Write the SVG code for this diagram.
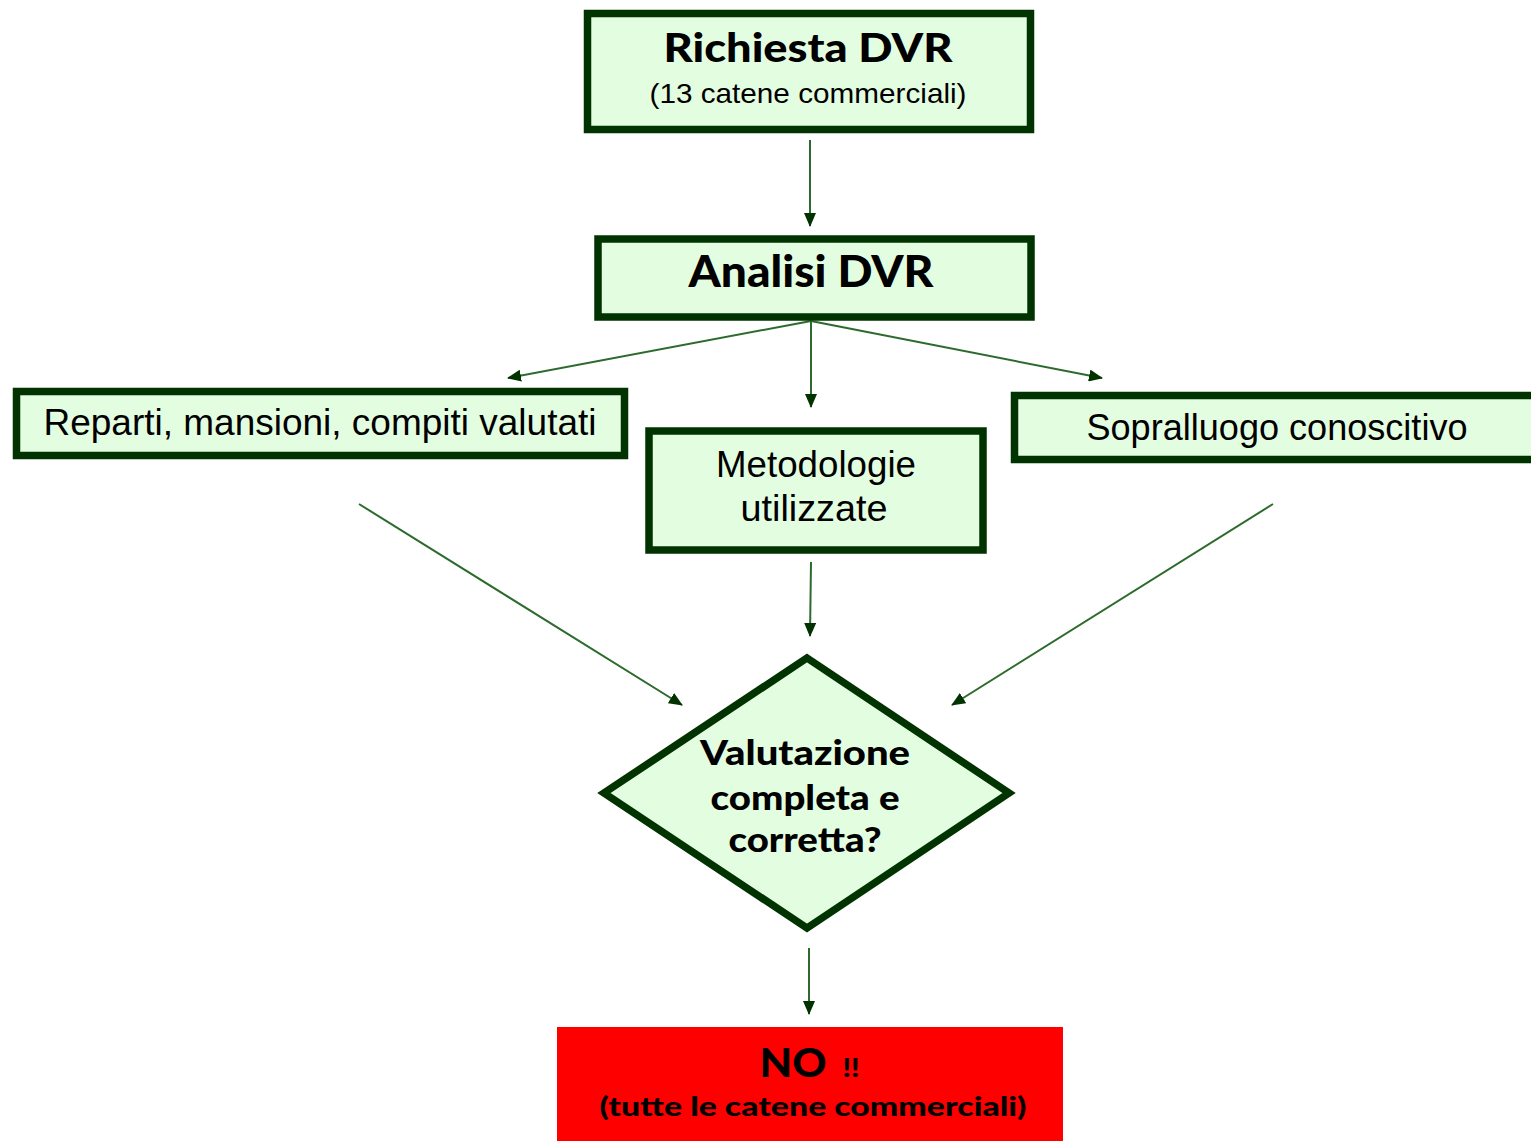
<svg xmlns="http://www.w3.org/2000/svg" width="1531" height="1141" viewBox="0 0 1531 1141">
<style>
.box{fill:#E3FDE1;stroke:#003300;stroke-width:7.5}
.bold{font-family:Lato,"Noto Sans",sans-serif;font-weight:900;fill:#000;text-anchor:middle}
.reg{font-family:"Liberation Sans",Arial,sans-serif;fill:#000;text-anchor:middle}
.conn{stroke:#2D6A2D;stroke-width:2;fill:none;marker-end:url(#ah)}
</style>
<defs>
<marker id="ah" viewBox="0 0 14 12" refX="13" refY="6" markerWidth="14" markerHeight="12" markerUnits="userSpaceOnUse" orient="auto">
<path d="M0,0 L14,6 L0,12 Z" fill="#003300"/>
</marker>
</defs>
<rect width="1531" height="1141" fill="#fff"/>
<g id="connectors">
<line class="conn" x1="810" y1="140" x2="810" y2="226"/>
<line class="conn" x1="811" y1="321" x2="508" y2="378"/>
<line class="conn" x1="811" y1="321" x2="811" y2="407"/>
<line class="conn" x1="811" y1="321" x2="1102" y2="378"/>
<line class="conn" x1="359" y1="504" x2="682" y2="705"/>
<line class="conn" x1="1273" y1="504" x2="952" y2="705"/>
<line class="conn" x1="811" y1="562" x2="810" y2="636"/>
<line class="conn" x1="809" y1="948" x2="809" y2="1014"/>
</g>
<g id="richiesta">
<rect class="box" x="587.5" y="13.5" width="443" height="116"/>
<text class="bold" x="808" y="62" font-size="40" textLength="289" lengthAdjust="spacingAndGlyphs">Richiesta DVR</text>
<text class="reg" x="808" y="103" font-size="28" textLength="317" lengthAdjust="spacingAndGlyphs">(13 catene commerciali)</text>
</g>
<g id="analisi">
<rect class="box" x="598" y="239" width="433" height="78"/>
<text class="bold" x="811" y="287" font-size="44" textLength="245" lengthAdjust="spacingAndGlyphs">Analisi DVR</text>
</g>
<g id="reparti">
<rect class="box" x="16.5" y="391.5" width="608" height="64"/>
<text class="reg" x="320" y="435" font-size="36" textLength="553" lengthAdjust="spacingAndGlyphs">Reparti, mansioni, compiti valutati</text>
</g>
<g id="metodologie">
<rect class="box" x="649" y="431" width="334" height="119"/>
<text class="reg" x="816" y="477" font-size="36" textLength="200" lengthAdjust="spacingAndGlyphs">Metodologie</text>
<text class="reg" x="814" y="521" font-size="36" textLength="147" lengthAdjust="spacingAndGlyphs">utilizzate</text>
</g>
<g id="sopralluogo">
<rect class="box" x="1014.5" y="395.5" width="530" height="64"/>
<text class="reg" x="1277" y="440" font-size="36" textLength="381" lengthAdjust="spacingAndGlyphs">Sopralluogo conoscitivo</text>
</g>
<g id="valutazione">
<polygon class="box" points="807,658 1009,793 807,928 604,793"/>
<text class="bold" x="805" y="765" font-size="34" textLength="210" lengthAdjust="spacingAndGlyphs">Valutazione</text>
<text class="bold" x="805" y="810" font-size="34" textLength="189" lengthAdjust="spacingAndGlyphs">completa e</text>
<text class="bold" x="805" y="852" font-size="34" textLength="153" lengthAdjust="spacingAndGlyphs">corretta?</text>
</g>
<g id="no">
<rect x="557" y="1027" width="506" height="120" fill="#FF0000"/>
<text class="bold" x="793" y="1077" font-size="40" textLength="67" lengthAdjust="spacingAndGlyphs">NO</text>
<text class="bold" x="851" y="1077" font-size="26" textLength="17" lengthAdjust="spacingAndGlyphs">!!</text>
<text class="bold" x="813" y="1116" font-size="27" textLength="427" lengthAdjust="spacingAndGlyphs">(tutte le catene commerciali)</text>
</g>
</svg>
